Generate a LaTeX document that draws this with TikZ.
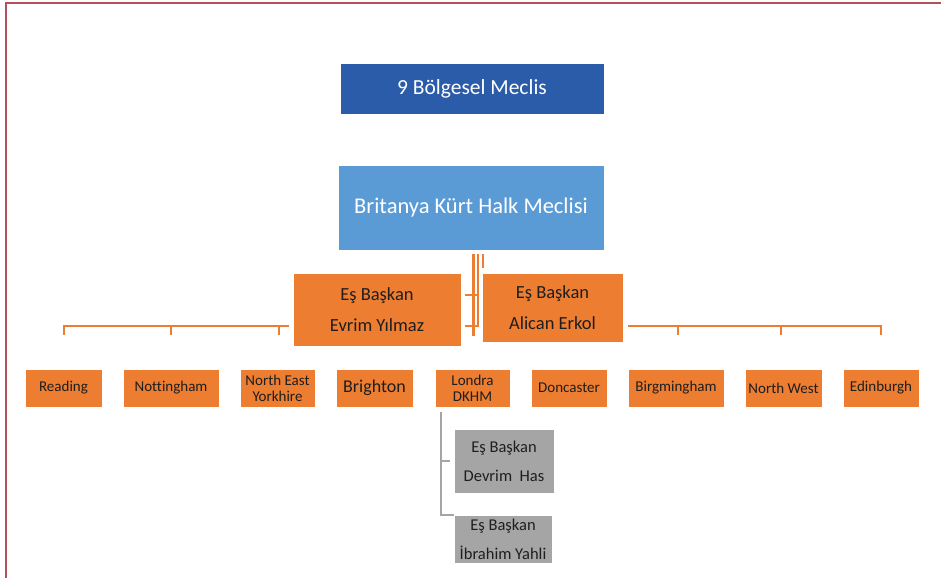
\documentclass[tikz,border=0pt]{standalone}
\usepackage{fontspec}
\setmainfont{Carlito}[Ligatures=NoCommon]
\usetikzlibrary{calc}
\definecolor{dblue}{HTML}{2B5CAA}
\definecolor{lblue}{HTML}{5B9BD5}
\definecolor{orng}{HTML}{ED7D31}
\definecolor{gry}{HTML}{A5A5A5}
\definecolor{frame}{HTML}{B4505A}
\definecolor{txt}{HTML}{1E1E1E}
\begin{document}
\begin{tikzpicture}[x=1pt,y=-1pt,
  box/.style={draw=white, line width=0.6pt, inner sep=0pt, align=center},
  topbox/.style={box, fill=dblue, text=white, font=\fontsize{21.5}{25}\selectfont},
  midbox/.style={box, fill=lblue, text=white, font=\fontsize{22.5}{27}\selectfont},
  headbox/.style={box, fill=orng, text=txt, font=\fontsize{18.5}{31}\selectfont},
  citybox/.style={box, fill=orng, text=txt, minimum height=38pt, font=\fontsize{15}{16}\selectfont},
  graybox/.style={box, fill=gry, text=txt, font=\fontsize{16.5}{29}\selectfont},
  oline/.style={draw=orng, line width=2pt},
  gline/.style={draw=gry, line width=2pt}]
\useasboundingbox (0,0) rectangle (941,578);
% frame
\draw[frame, line width=1.5pt] (6,578) -- (6,3) -- (941,3);

% nodes
\node[topbox, minimum width=264pt, minimum height=51pt] (top) at (472,88.5) {9 Bölgesel Meclis};
\node[midbox, minimum width=266pt, minimum height=85pt] (bkhm) at (471,207.5) {Britanya Kürt Halk Meclisi};
\node[headbox, minimum width=168pt, minimum height=73pt] (ey) at (377,309.5) {Eş Başkan\\Evrim Yılmaz};
\node[headbox, minimum width=141pt, minimum height=69pt] (ae) at (552.5,307.5) {Eş Başkan\\Alican Erkol};

\node[citybox, minimum width=77pt] (reading) at (63.5,388) {Reading};
\node[citybox, minimum width=96pt] (nott) at (171,388) {Nottingham};
\node[citybox, minimum width=75pt] (ney) at (277.5,388) {North East\\Yorkhire};
\node[citybox, minimum width=77pt, font=\fontsize{18}{20}\selectfont] (bri) at (374.5,388) {Brighton};
\node[citybox, minimum width=75pt] (lon) at (472.5,388) {Londra\\DKHM};
\node[citybox, minimum width=76pt] (don) at (569,388) {Doncaster};
\node[citybox, minimum width=96pt] (birm) at (676,388) {Birgmingham};
\node[citybox, minimum width=77pt] (nw) at (783.5,388) {North West};
\node[citybox, minimum width=76pt] (edi) at (881,388) {Edinburgh};

\node[graybox, minimum width=100pt, minimum height=64pt] (g1) at (504,461) {Eş Başkan\\Devrim\ \ Has};
\node[graybox, minimum width=98pt, minimum height=48pt] (g2) at (503,539) {Eş Başkan\\İbrahim Yahli};

% left bracket
\coordinate (lb) at (289,326);
\draw[oline] (lb) -- (reading.north |- lb) -- ++(0,9);
\draw[oline] (nott.north |- lb) -- ++(0,9);
\draw[oline] (279,326) -- ++(0,9);
% right bracket
\coordinate (rb) at (628,326);
\draw[oline] (rb) -- (edi.north |- rb) -- ++(0,9);
\draw[oline] (678,326) -- ++(0,9);
\draw[oline] (781,326) -- ++(0,9);

% center connectors
\coordinate (ca) at (473,254);
\coordinate (cb) at (478,254);
\coordinate (cc) at (483,254);
\draw[draw=orng, line width=3pt] (ca) -- ++(0,82);
\draw[oline] (cb) -- ++(0,73);
\draw[oline] (cc) -- ++(0,14);
\draw[oline] (465,295) -- (478,295);
\draw[oline] (465,326) -- (478,326);

% gray connector
\coordinate (gs) at (441,412);
\draw[gline] (gs) -- (gs |- g2.north) -- (g2.north west);
\draw[gline] (gs |- g1.west) -- ++(9,0);
\end{tikzpicture}
\end{document}
